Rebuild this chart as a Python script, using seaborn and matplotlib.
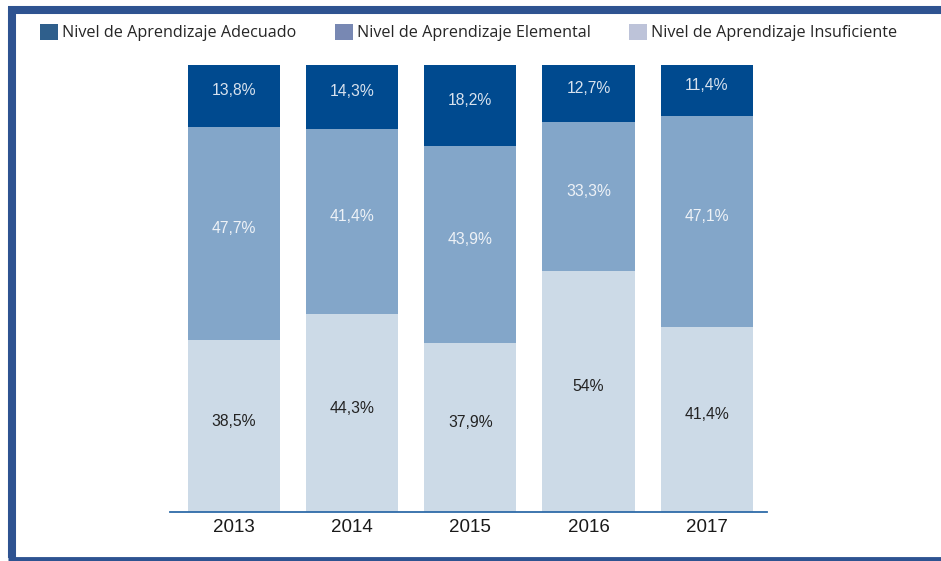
import matplotlib
matplotlib.use("Agg")
import matplotlib.pyplot as plt
from matplotlib.patches import Patch
from matplotlib.lines import Line2D
import seaborn as sns
import pandas as pd

years = ["2013", "2014", "2015", "2016", "2017"]
insuficiente = [38.5, 44.3, 37.9, 54.0, 41.4]
elemental = [47.7, 41.4, 43.9, 33.3, 47.1]
adecuado = [13.8, 14.3, 18.2, 12.7, 11.4]
labels_insuf = ["38,5%", "44,3%", "37,9%", "54%", "41,4%"]
labels_elem = ["47,7%", "41,4%", "43,9%", "33,3%", "47,1%"]
labels_adec = ["13,8%", "14,3%", "18,2%", "12,7%", "11,4%"]
series_names = ["Nivel de Aprendizaje Adecuado", "Nivel de Aprendizaje Elemental",
                "Nivel de Aprendizaje Insuficiente"]

sns.set_theme(style="white")
plt.rcParams["font.family"] = ["Liberation Sans", "DejaVu Sans"]

fig = plt.figure(figsize=(9.41, 5.61), dpi=100)
ax = fig.add_axes([170 / 941, 49 / 561, 597 / 941, 448 / 561])

df = pd.DataFrame({"year": years, "insuf": insuficiente, "elem": elemental, "adec": adecuado})
bottom_elem = df["insuf"].values
bottom_adec = df["insuf"].values + df["elem"].values

c_insuf, c_elem, c_adec = "#CCDAE7", "#83A6C9", "#004A8F"
w = 0.78
sns.barplot(data=df, x="year", y="insuf", color=c_insuf, saturation=1, width=w, linewidth=0, ax=ax)
sns.barplot(data=df, x="year", y="elem", bottom=bottom_elem, color=c_elem, saturation=1, width=w,
            linewidth=0, ax=ax)
sns.barplot(data=df, x="year", y="adec", bottom=bottom_adec, color=c_adec, saturation=1, width=w,
            linewidth=0, ax=ax)

off = 1.1
fs = 11.3
for i in range(len(years)):
    ax.text(i, insuficiente[i] / 2 + off, labels_insuf[i], ha="center", va="center",
            fontsize=fs, color="#222222")
    ax.text(i, bottom_elem[i] + elemental[i] / 2 + off, labels_elem[i], ha="center", va="center",
            fontsize=fs, color="#EEF2F7")
    ax.text(i, bottom_adec[i] + adecuado[i] / 2 + off, labels_adec[i], ha="center", va="center",
            fontsize=fs, color="#D8E2EE")

ax.set_xlim(-0.54, 4.51)
ax.set_ylim(0, 100.2)
ax.set_xlabel("")
ax.set_ylabel("")
ax.set_yticks([])
for s in ["top", "left", "right"]:
    ax.spines[s].set_visible(False)
ax.spines["bottom"].set_color("#2E6BA8")
ax.spines["bottom"].set_linewidth(1.3)
ax.tick_params(axis="x", length=0, pad=5, labelsize=13.5, labelcolor="#1a1a1a")

handles = [Patch(facecolor="#2F5F8C", edgecolor="none"),
           Patch(facecolor="#7888B3", edgecolor="none"),
           Patch(facecolor="#BDC3D9", edgecolor="none")]
fig.legend(handles, series_names, loc="upper left", bbox_to_anchor=(37 / 941, 1 - 21 / 561),
           ncol=3, frameon=False, prop={"family": ["Open Sans", "DejaVu Sans"], "size": 11.6},
           handlelength=1.1, handleheight=1.1, handletextpad=0.25, columnspacing=2.4,
           borderaxespad=0, borderpad=0.2)

frame_c = "#2E5391"
fig.add_artist(Line2D([12 / 941, 12 / 941], [1 - 7 / 561, 3 / 561], transform=fig.transFigure,
                      color=frame_c, linewidth=5.8, solid_capstyle="butt"))
fig.add_artist(Line2D([8 / 941, 1.0], [1 - 10 / 561, 1 - 10 / 561], transform=fig.transFigure,
                      color=frame_c, linewidth=5.8, solid_capstyle="butt"))
fig.add_artist(Line2D([8 / 941, 1.0], [2 / 561, 2 / 561], transform=fig.transFigure,
                      color=frame_c, linewidth=3.5, solid_capstyle="butt"))

fig.savefig("out.png", dpi=100)
